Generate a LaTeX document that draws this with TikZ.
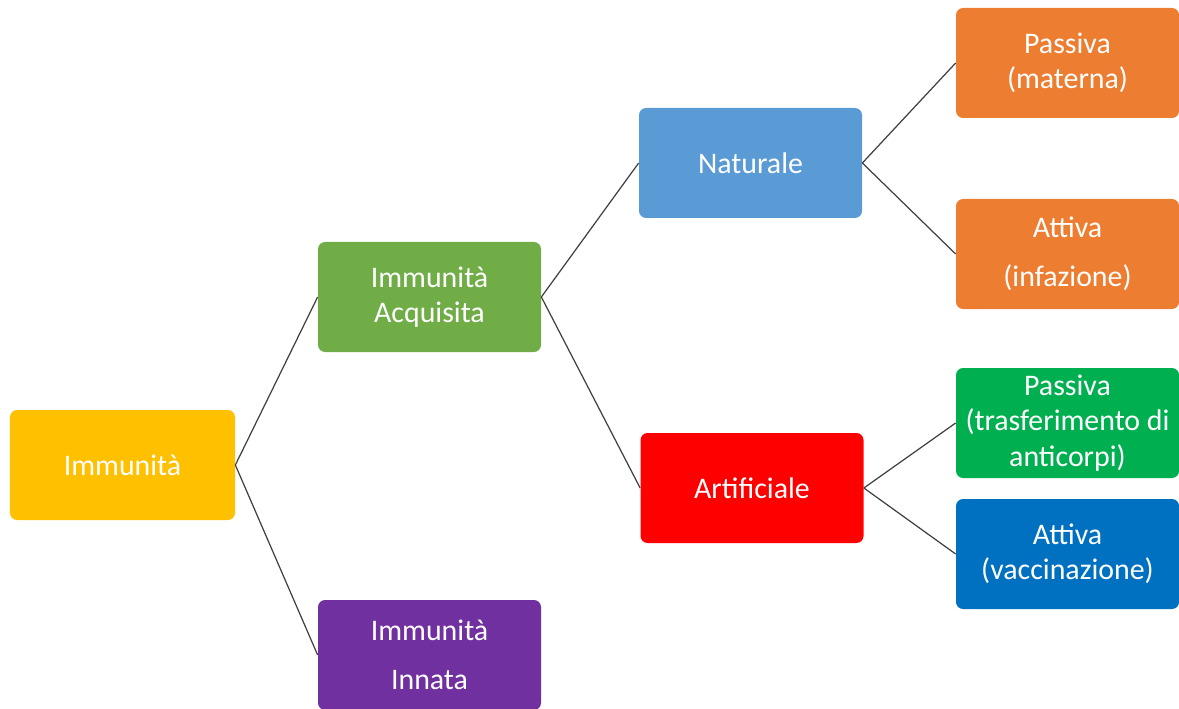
\documentclass[tikz,border=0pt]{standalone}
\usepackage{fontspec}
\setmainfont{Carlito}
\usetikzlibrary{arrows,shapes}
\definecolor{cyellow}{HTML}{FFC000}
\definecolor{cgreen}{HTML}{70AD47}
\definecolor{cpurple}{HTML}{7030A0}
\definecolor{cblue}{HTML}{5B9BD5}
\definecolor{cred}{HTML}{FF0000}
\definecolor{corange}{HTML}{ED7D31}
\definecolor{cgreenb}{HTML}{00B050}
\definecolor{cblueb}{HTML}{0070C0}
\tikzstyle{tbox}=[rectangle,rounded corners=4pt,minimum width=4.46cm,minimum height=2.2cm,text=white,align=center,font=\fontsize{17}{20}\selectfont]
\tikzstyle{tlink}=[line width=0.7pt,draw=black!75]

\begin{document}
\begin{tikzpicture}
\useasboundingbox (0,0) rectangle (23.58,-14.18);
\node[tbox,fill=cyellow,minimum width=4.5cm] (I) at (2.45,-9.30) {Immunità};
\node[tbox,fill=cgreen] (IA) at (8.59,-5.94) {Immunità\\Acquisita};
\node[tbox,fill=cpurple] (II) at (8.59,-13.10) {Immunità\\[8pt]Innata};
\node[tbox,fill=cblue] (Nat) at (15.01,-3.26) {Naturale};
\node[tbox,fill=cred] (Art) at (15.04,-9.76) {Artificiale};
\node[tbox,fill=corange] (PM) at (21.35,-1.26) {Passiva\\(materna)};
\node[tbox,fill=corange] (AI) at (21.35,-5.08) {Attiva\\[8pt](infazione)};
\node[tbox,fill=cgreenb] (PT) at (21.35,-8.46) {Passiva\\(trasferimento di\\anticorpi)};
\node[tbox,fill=cblueb] (AV) at (21.35,-11.08) {Attiva\\(vaccinazione)};
\draw[tlink](I.east)--(IA.west);\draw[tlink](I.east)--(II.west);
\draw[tlink](IA.east)--(Nat.west);\draw[tlink](IA.east)--(Art.west);
\draw[tlink](Nat.east)--(PM.west);\draw[tlink](Nat.east)--(AI.west);
\draw[tlink](Art.east)--(PT.west);\draw[tlink](Art.east)--(AV.west);
\end{tikzpicture}
\end{document}
